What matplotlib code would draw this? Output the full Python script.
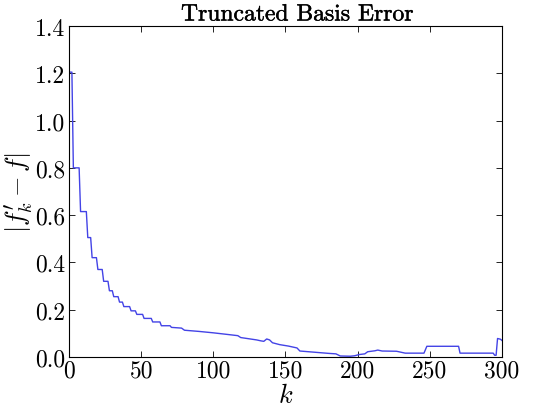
import numpy as np
import matplotlib
matplotlib.use("Agg")
import matplotlib.pyplot as plt
import matplotlib.patheffects as pe

# error vs number of basis functions
k = [0, 2, 3, 7, 8, 12, 13, 15, 16, 19, 20, 23, 24, 27, 28, 30, 31, 34, 35,
     37, 38, 42, 43, 46, 47, 51, 52, 57, 58, 63, 64, 70, 71, 78, 80, 90, 100,
     110, 117, 119, 130, 133, 135, 137, 139, 141, 146, 152, 158, 160, 170,
     180, 185, 188, 195, 198, 201, 205, 207, 212, 214, 217, 227, 233, 246,
     248, 270, 271, 294, 295, 296, 297, 299, 300]
err = [1.205, 1.205, 0.80, 0.80, 0.615, 0.615, 0.505, 0.505, 0.42, 0.42,
       0.37, 0.37, 0.32, 0.32, 0.28, 0.28, 0.255, 0.255, 0.232, 0.232, 0.213,
       0.213, 0.195, 0.195, 0.180, 0.180, 0.163, 0.163, 0.148, 0.148, 0.132,
       0.132, 0.125, 0.122, 0.113, 0.108, 0.102, 0.095, 0.090, 0.082, 0.072,
       0.068, 0.066, 0.076, 0.072, 0.060, 0.052, 0.046, 0.038, 0.025, 0.020,
       0.015, 0.013, 0.004, 0.003, 0.005, 0.010, 0.013, 0.022, 0.026, 0.029,
       0.025, 0.024, 0.016, 0.016, 0.045, 0.045, 0.016, 0.016, 0.007, 0.007,
       0.078, 0.075, 0.070]

xticks = [0, 50, 100, 150, 200, 250, 300]
yticks = [0.0, 0.2, 0.4, 0.6, 0.8, 1.0, 1.2, 1.4]

plt.rcParams['font.family'] = 'cmr10'
plt.rcParams['mathtext.fontset'] = 'cm'
plt.rcParams['axes.formatter.use_mathtext'] = True

fig = plt.figure(figsize=(5.5, 4.1), dpi=100)
ax = fig.add_axes([0.1255, 0.127, 0.787, 0.807])
ax.plot(k, err, color='#4343e6', lw=1.0)

ax.set_xlim(0, 300)
ax.set_ylim(0, 1.4)
ax.set_xticks(xticks)
ax.set_yticks(yticks)
ax.set_xticklabels([str(t) for t in xticks])
ax.set_yticklabels(["%.1f" % t for t in yticks])
ax.tick_params(direction='in', top=True, right=True, length=4, width=0.6,
               labelsize=17)
ax.tick_params(axis='x', pad=2)
ax.tick_params(axis='y', pad=3)
for s in ax.spines.values():
    s.set_linewidth(0.8)

t = ax.set_title("Truncated Basis Error", fontsize=17, pad=4, x=0.527)
t.set_path_effects([pe.withStroke(linewidth=0.3, foreground='black')])
ax.set_xlabel(r"$k$", fontsize=19, labelpad=1)
ax.set_ylabel(r"$|f_k' - f|$", fontsize=19, labelpad=0)

fig.savefig("out.png", dpi=100, facecolor='white')
